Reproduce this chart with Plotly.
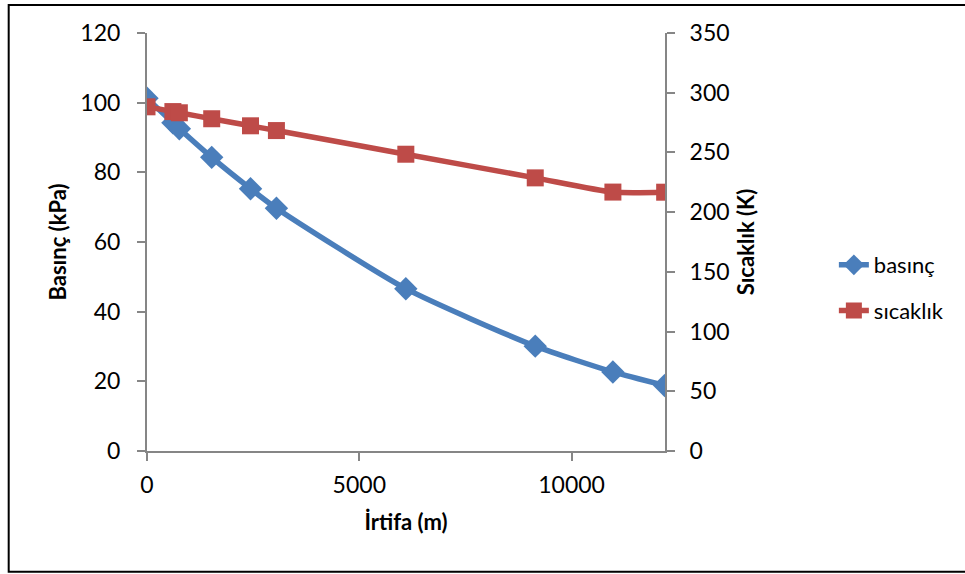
import plotly.graph_objects as go

altitude_m = [0, 610, 762, 1524, 2438, 3048, 6096, 9144, 10973, 12192]
pressure_kpa = [101.3, 94.2, 92.5, 84.3, 75.3, 69.7, 46.6, 30.1, 22.7, 18.8]
temperature_k = [288.2, 284.2, 283.2, 278.2, 272.3, 268.3, 248.5, 228.7, 216.8, 216.7]
x_ticks = [0, 5000, 10000]
x_tick_text = ["0", "5000", "10000"]

blue = "#4A7EBB"
red = "#BE4B48"
font_family = "Lato, 'Open Sans', sans-serif"

fig = go.Figure()
fig.add_trace(go.Scatter(
    x=altitude_m, y=pressure_kpa, name="basınç", mode="lines+markers",
    line=dict(color=blue, width=5.5, shape="spline", smoothing=0.6),
    marker=dict(symbol="diamond", size=18, color=blue),
    legendgroup="a", yaxis="y"))
fig.add_trace(go.Scatter(
    x=altitude_m, y=temperature_k, name="sıcaklık", mode="lines+markers",
    line=dict(color=red, width=5.5, shape="spline", smoothing=0.6),
    marker=dict(symbol="square", size=17, color=red),
    legendgroup="b", yaxis="y2"))

axis_col = "#868686"
common = dict(showgrid=False, zeroline=False, showline=True, linecolor=axis_col,
              linewidth=2, ticks="outside", tickcolor=axis_col, ticklen=8, tickwidth=2,
              tickfont=dict(size=23))
fig.update_layout(
    width=965, height=574,
    margin=dict(l=147, r=300, t=33, b=123),
    paper_bgcolor="white", plot_bgcolor="white",
    font=dict(family=font_family, size=23, color="black"),
    xaxis=dict(range=[0, 12200], tickvals=x_ticks, ticktext=x_tick_text,
               ticklabelstandoff=4,
               title=dict(text="<b>İrtifa (m)</b>", font=dict(size=22), standoff=18),
               **common),
    yaxis=dict(range=[0, 120], dtick=20, ticklabelstandoff=12,
               title=dict(text="<b>Basınç (kPa)</b>", font=dict(size=22), standoff=8),
               **common),
    yaxis2=dict(range=[0, 350], dtick=50, overlaying="y", side="right",
                ticklabelstandoff=10,
                title=dict(text="<b>Sıcaklık (K)</b>", font=dict(size=22), standoff=10),
                **common),
    legend=dict(x=1.326, y=0.39, xanchor="left", yanchor="middle",
                font=dict(size=22), tracegroupgap=14, traceorder="grouped",
                bgcolor="rgba(0,0,0,0)"),
    shapes=[dict(type="rect", xref="paper", yref="paper",
                 x0=-0.267, x1=1.6, y0=-0.289, y1=1.067,
                 line=dict(color="black", width=2), layer="below")],
)

fig.write_html("out.html")
